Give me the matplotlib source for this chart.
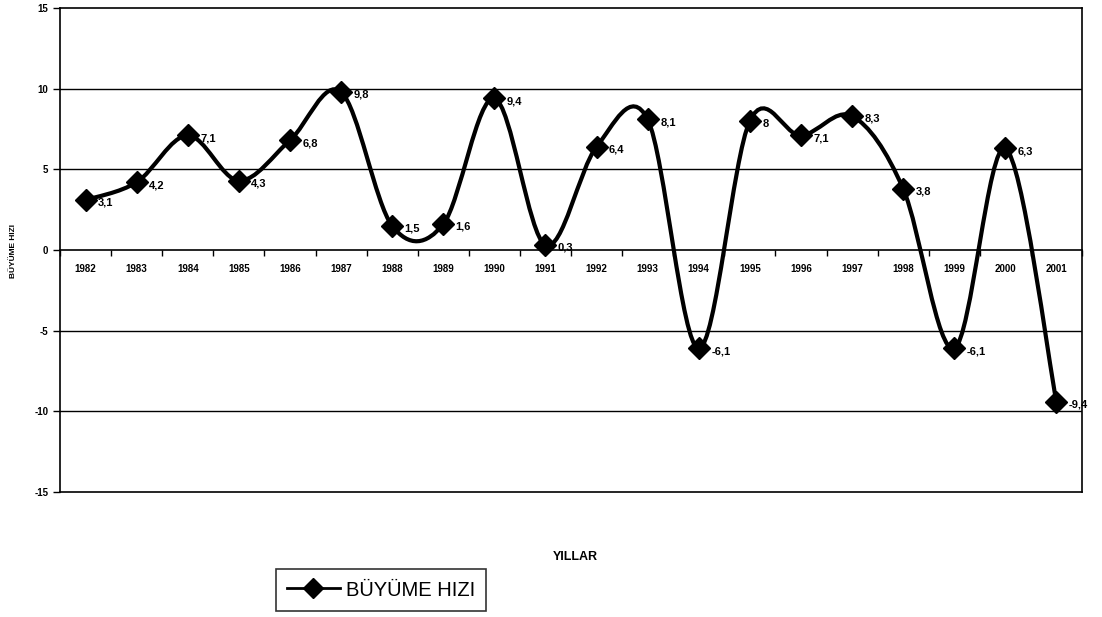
import matplotlib
matplotlib.use("Agg")
import matplotlib.pyplot as plt
import numpy as np
from matplotlib.path import Path
from matplotlib.patches import PathPatch
from matplotlib.lines import Line2D

years = ["1982", "1983", "1984", "1985", "1986", "1987", "1988", "1989", "1990", "1991",
         "1992", "1993", "1994", "1995", "1996", "1997", "1998", "1999", "2000", "2001"]
growth = [3.1, 4.2, 7.1, 4.3, 6.8, 9.8, 1.5, 1.6, 9.4, 0.3,
          6.4, 8.1, -6.1, 8.0, 7.1, 8.3, 3.8, -6.1, 6.3, -9.4]
series_name = "BÜYÜME HIZI"
y_ticks = [-15, -10, -5, 0, 5, 10, 15]

plt.rcParams['font.family'] = ['Liberation Sans', 'DejaVu Sans']

fig = plt.figure(figsize=(11.02, 6.17), dpi=100)
ax = fig.add_axes([60/1102, 1-492/617, 1022/1102, 484/617])

x = np.arange(len(years)) + 0.5
y = np.array(growth)

# smoothed line (cardinal/Catmull-Rom Bezier through the data points)
verts = [(x[0], y[0])]
codes = [Path.MOVETO]
n = len(x)
for i in range(n - 1):
    p0 = np.array([x[i-1], y[i-1]]) if i > 0 else np.array([x[i], y[i]])
    p1 = np.array([x[i], y[i]])
    p2 = np.array([x[i+1], y[i+1]])
    p3 = np.array([x[i+2], y[i+2]]) if i + 2 < n else p2
    c1 = p1 + (p2 - p0) / 6.0
    c2 = p2 - (p3 - p1) / 6.0
    verts += [tuple(c1), tuple(c2), tuple(p2)]
    codes += [Path.CURVE4] * 3
ax.add_patch(PathPatch(Path(verts, codes), facecolor='none', edgecolor='black', lw=3.0, zorder=3))
ax.plot(x, y, linestyle='none', marker='D', markersize=11, color='black', zorder=4)

for xi, yi in zip(x, growth):
    lab = ("%g" % yi).replace('.', ',')
    ax.annotate(lab, (xi, yi), xytext=(9, -2), textcoords='offset points',
                ha='left', va='center', fontsize=8, fontweight='bold', zorder=5)

ax.set_xlim(0, len(years))
ax.set_ylim(-15, 15)

for v in [-10, -5, 5, 10]:
    ax.axhline(v, color='black', lw=1.0, zorder=1)
ax.axhline(-15, color='black', lw=1.2, clip_on=False, zorder=2)

for s in ['top', 'right', 'left']:
    ax.spines[s].set_linewidth(1.2)
ax.spines['bottom'].set_position(('data', 0))
ax.spines['bottom'].set_linewidth(1.2)

ax.set_yticks(y_ticks)
ax.set_yticklabels([str(t) for t in y_ticks], fontsize=7, fontweight='bold')
ax.tick_params(axis='y', direction='out', length=5, width=1)

ax.set_xticks(np.arange(0, len(years) + 1))
ax.set_xticklabels([])
ax.tick_params(axis='x', which='major', direction='out', length=4, width=1)
ax.set_xticks(x, minor=True)
ax.set_xticklabels(years, minor=True, fontsize=7, fontweight='bold')
ax.tick_params(axis='x', which='minor', length=0, pad=10)

fig.text(14/1102, 1-251/617, series_name, rotation=90, ha='center', va='center',
         fontsize=6, fontweight='bold')
fig.text(575/1102, 1-557/617, "YILLAR", ha='center', va='center',
         fontsize=9, fontweight='bold')

handle = Line2D([], [], color='black', lw=2, marker='D', markersize=10)
leg = fig.legend([handle], [series_name], loc='center', bbox_to_anchor=(381/1102, 1-590/617),
                 fontsize=14.5, frameon=True, fancybox=False, edgecolor='black',
                 handlelength=2.6, borderpad=0.55, handletextpad=0.3)
leg.get_frame().set_linewidth(1.2)

fig.savefig("out.png", dpi=100, facecolor='white')
